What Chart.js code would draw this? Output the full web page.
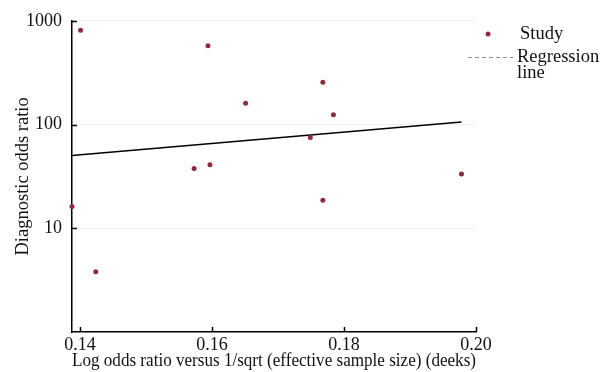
<!DOCTYPE html>
<html>
<head>
<meta charset="utf-8">
<script src="https://cdn.jsdelivr.net/npm/chart.js@4"></script>
<style>
  html, body { margin: 0; padding: 0; background: #fff; }
  #wrap { width: 610px; height: 372px; }
</style>
</head>
<body>
<div id="wrap"><canvas id="c"></canvas></div>
<script>
// study points
const studyX = [0.1401, 0.1594, 0.1768, 0.1651, 0.1784, 0.1749, 0.1573, 0.1597, 0.1978, 0.1768, 0.1388, 0.1424];
const studyY = [810, 575, 255, 160, 124, 75, 37.6, 41, 33.4, 18.6, 16.2, 3.8];
// regression line end points
const regX = [0.1388, 0.1978];
const regY = [50.2, 106];
const xTicks = [0.14, 0.16, 0.18, 0.20];
const yTicks = [10, 100, 1000];

const serif = "'Liberation Serif', 'Times New Roman', serif";
const dotColor = '#8b2d3c';

// small tick marks drawn inward, plus the legend on the right
const decor = {
  id: 'decor',
  afterDraw(chart) {
    const c = chart.ctx, a = chart.chartArea;
    const xs = chart.scales.x, ys = chart.scales.y;
    c.save();
    c.strokeStyle = '#000';
    c.lineWidth = 1.5;
    c.beginPath();
    yTicks.forEach(v => {
      const p = Math.round(ys.getPixelForValue(v)) + 0.5;
      c.moveTo(a.left, p); c.lineTo(a.left + 5, p);
    });
    xTicks.forEach(v => {
      const p = Math.round(xs.getPixelForValue(v)) + 0.5;
      c.moveTo(p, a.bottom); c.lineTo(p, a.bottom - 5);
    });
    c.stroke();

    // legend
    const lx = a.right;
    c.fillStyle = dotColor;
    c.beginPath();
    c.arc(lx + 12, 34, 2.5, 0, Math.PI * 2);
    c.fill();
    c.fillStyle = '#111';
    c.font = '18.5px ' + serif;
    c.textBaseline = 'middle';
    c.fillText('Study', lx + 44, 34);
    c.strokeStyle = '#8494a8';
    c.lineWidth = 1;
    c.setLineDash([4, 3]);
    c.beginPath();
    c.moveTo(lx - 8, 57.5); c.lineTo(lx + 37, 57.5);
    c.stroke();
    c.setLineDash([]);
    c.fillText('Regression', lx + 41, 57);
    c.fillText('line', lx + 41, 73);
    c.restore();
  }
};

new Chart(document.getElementById('c'), {
  type: 'scatter',
  data: {
    datasets: [{
      label: 'Study',
      data: studyX.map((x, i) => ({ x: x, y: studyY[i] })),
      pointRadius: 2.5,
      pointBackgroundColor: dotColor,
      pointBorderWidth: 0,
      clip: false
    }, {
      type: 'line',
      label: 'Regression line',
      data: regX.map((x, i) => ({ x: x, y: regY[i] })),
      borderColor: '#000',
      borderWidth: 1.5,
      pointRadius: 0,
      fill: false
    }]
  },
  plugins: [decor],
  options: {
    responsive: true,
    maintainAspectRatio: false,
    animation: false,
    layout: { padding: { top: 20, right: 134, left: 0, bottom: 0 } },
    plugins: {
      legend: { display: false },
      tooltip: { enabled: false }
    },
    scales: {
      x: {
        type: 'linear',
        min: 0.1388,
        max: 0.2,
        afterBuildTicks: s => { s.ticks = xTicks.map(v => ({ value: v })); },
        afterFit: s => { s.height = 40; },
        border: { color: '#000', width: 1.5 },
        grid: { display: false, drawTicks: false },
        ticks: {
          color: '#111',
          padding: 2,
          maxRotation: 0,
          font: { family: serif, size: 18 },
          callback: v => v.toFixed(2)
        },
        title: {
          display: true,
          text: 'Log odds ratio versus 1/sqrt (effective sample size) (deeks)',
          color: '#111',
          padding: { top: -3, bottom: 0 },
          font: { family: serif, size: 18.5 }
        }
      },
      y: {
        type: 'logarithmic',
        min: 1,
        max: 1000,
        afterBuildTicks: s => { s.ticks = yTicks.map(v => ({ value: v })); },
        afterFit: s => { s.width = 72; },
        border: { color: '#000', width: 1.5 },
        grid: { color: '#f1f1f1', drawTicks: false },
        ticks: {
          color: '#111',
          padding: 10,
          font: { family: serif, size: 18 },
          callback: v => String(v)
        },
        title: {
          display: true,
          text: 'Diagnostic odds ratio',
          color: '#111',
          padding: { top: 12, bottom: 4 },
          font: { family: serif, size: 18.5 }
        }
      }
    }
  }
});
</script>
</body>
</html>
